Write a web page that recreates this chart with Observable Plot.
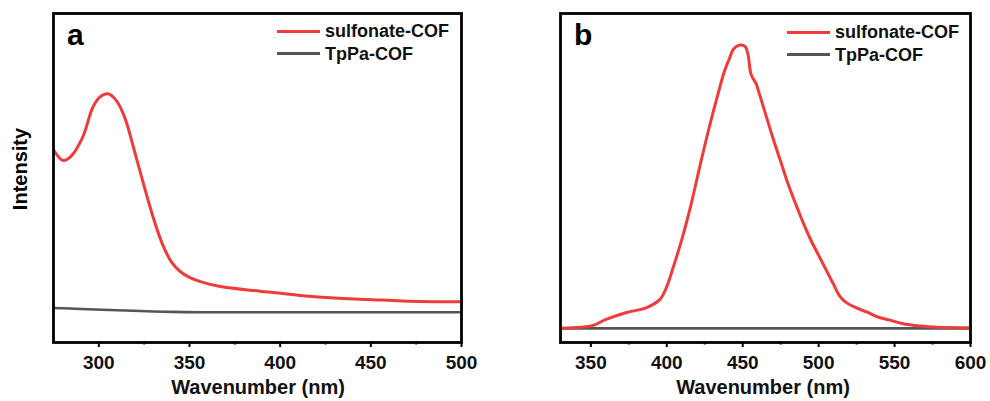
<!DOCTYPE html>
<html>
<head>
<meta charset="utf-8">
<script src="https://cdn.jsdelivr.net/npm/d3@7"></script>
<script src="https://cdn.jsdelivr.net/npm/@observablehq/plot@0.6"></script>
<style>
  body { margin: 0; background: #fff; }
  #root { position: relative; width: 990px; height: 401px; background: #fff; font-family: "Liberation Sans", Arial, sans-serif; overflow: hidden; }
  .panel { position: absolute; top: 0; }
  svg.panel text { font-weight: 700 !important; }
  .leg { position: absolute; font: bold 18px "Liberation Sans", Arial, sans-serif; color: #111; line-height: 18px; white-space: nowrap; }
  .legline { position: absolute; height: 3px; }
  .plab { position: absolute; font: bold 30px "Liberation Sans", Arial, sans-serif; color: #000; line-height: 30px; }
  .ylab { position: absolute; font: bold 20px "Liberation Sans", Arial, sans-serif; color: #000; transform: rotate(-90deg); transform-origin: center; white-space: nowrap; }
</style>
</head>
<body>
<div id="root"></div>
<script>
// ---------- data ----------
const seriesNames = ["sulfonate-COF", "TpPa-COF"];
const seriesColors = ["#ef3b3b", "#555555"];

// Panel a (absorption), wavelength (nm) and relative intensity
const aSulfonateX = [275, 280.4, 285, 291.1, 296.7, 300.5, 305, 309.6, 314.2, 320, 325, 330, 335, 340, 345, 350, 356, 367, 389, 411, 430, 448, 467, 485, 500];
const aSulfonateY = [58.6, 55.3, 56.8, 62.4, 71.5, 74.6, 75.6, 73.6, 68.5, 57.5, 47.5, 38.0, 30.0, 24.5, 21.5, 19.8, 18.5, 17.0, 15.6, 14.3, 13.5, 13.1, 12.6, 12.4, 12.4];
const aTpPaX = [275, 290, 310, 340, 360, 400, 450, 500];
const aTpPaY = [10.5, 10.2, 9.8, 9.3, 9.2, 9.2, 9.2, 9.2];

// Panel b (emission)
const bSulfonateX = [330, 343, 351.5, 360, 373.5, 386.7, 395.5, 400, 404, 410, 416, 422, 428, 434, 438, 441, 444, 448, 451.5, 453.5, 455.5, 459, 460, 465, 470, 475, 480, 485, 490, 495, 500, 505, 510, 514, 518, 525, 532, 540, 547, 555, 567, 578, 600];
const bSulfonateY = [4.3, 4.6, 5.2, 7.0, 9.1, 10.6, 13.1, 17.0, 22.5, 31.5, 42.0, 54.0, 65.5, 76.0, 82.5, 86.0, 89.2, 90.4, 90.0, 87.5, 81.5, 78.5, 77.0, 69.5, 62.0, 55.0, 48.0, 42.0, 36.2, 31.0, 26.5, 22.0, 17.5, 14.0, 12.2, 10.5, 9.2, 7.6, 6.8, 5.8, 5.0, 4.6, 4.5];
const bTpPaX = [330, 400, 450, 500, 550, 600];
const bTpPaY = [4.3, 4.3, 4.3, 4.3, 4.3, 4.3];

const aDomain = [275, 500];
const bDomain = [330, 600];
const aMajorTicks = [300, 350, 400, 450, 500];
const aMinorTicks = [325, 375, 425, 475];
const bMajorTicks = [350, 400, 450, 500, 550, 600];
const bMinorTicks = [375, 425, 475, 525, 575];
const xLabel = "Wavenumber (nm)";
const yLabel = "Intensity";
const panelLabels = ["a", "b"];

// ---------- build ----------
const zip = (xs, ys) => xs.map((x, i) => ({x, y: ys[i]}));
const FONT = "'Liberation Sans', Arial, sans-serif";

function panel({domain, major, minor, red, gray, width, mL, mR}) {
  return Plot.plot({
    width, height: 401,
    marginLeft: mL, marginRight: mR, marginTop: 13, marginBottom: 59,
    style: {fontFamily: FONT, fontWeight: "bold", background: "transparent", overflow: "visible"},
    x: {domain, label: null},
    y: {domain: [0, 100], axis: null},
    marks: [
      Plot.line(gray, {x: "x", y: "y", stroke: seriesColors[1], strokeWidth: 2.6, curve: "catmull-rom"}),
      Plot.line(red, {x: "x", y: "y", stroke: seriesColors[0], strokeWidth: 3, curve: "catmull-rom"}),
      Plot.axisX({ticks: major, tickSize: 5, tickPadding: 7.5, tickFormat: d => String(d), fontSize: 19, fontWeight: "bold", fill: "#111", stroke: "#000", strokeWidth: 2, label: null}),
      Plot.axisX({ticks: minor, tickSize: 2.5, tickFormat: () => "", strokeWidth: 2, stroke: "#000", label: null}),
      Plot.frame({stroke: "#000", strokeWidth: 2.8})
    ]
  });
}

const root = document.getElementById("root");

const pa = panel({domain: aDomain, major: aMajorTicks, minor: aMinorTicks,
  red: zip(aSulfonateX, aSulfonateY), gray: zip(aTpPaX, aTpPaY), width: 480, mL: 53, mR: 19});
pa.classList.add("panel"); pa.style.left = "0px";
root.appendChild(pa);

const pb = panel({domain: bDomain, major: bMajorTicks, minor: bMinorTicks,
  red: zip(bSulfonateX, bSulfonateY), gray: zip(bTpPaX, bTpPaY), width: 490, mL: 60, mR: 20});
pb.classList.add("panel"); pb.style.left = "500px";
root.appendChild(pb);

function addDiv(cls, text, css) {
  const d = document.createElement("div");
  d.className = cls;
  if (text != null) d.textContent = text;
  Object.assign(d.style, css);
  root.appendChild(d);
  return d;
}

// axis titles
addDiv("leg", xLabel, {left: "158px", top: "376px", fontSize: "20px", lineHeight: "22px", width: "200px", textAlign: "center"});
addDiv("leg", xLabel, {left: "663px", top: "376px", fontSize: "20px", lineHeight: "22px", width: "200px", textAlign: "center"});
addDiv("ylab", yLabel, {left: "-30px", top: "158px", width: "100px", textAlign: "center", lineHeight: "22px"});

// panel labels
addDiv("plab", panelLabels[0], {left: "67px", top: "20px"});
addDiv("plab", panelLabels[1], {left: "574px", top: "20px"});

// legends
function legend(x0, y0) {
  seriesNames.forEach((name, i) => {
    const y = y0 + i * 22.5;
    addDiv("legline", null, {left: x0 + "px", top: (y - 1.5) + "px", width: "43px", background: seriesColors[i]});
    addDiv("leg", name, {left: (x0 + 48) + "px", top: (y - 9) + "px"});
  });
}
legend(277, 31);
legend(787, 32);
</script>
</body>
</html>
